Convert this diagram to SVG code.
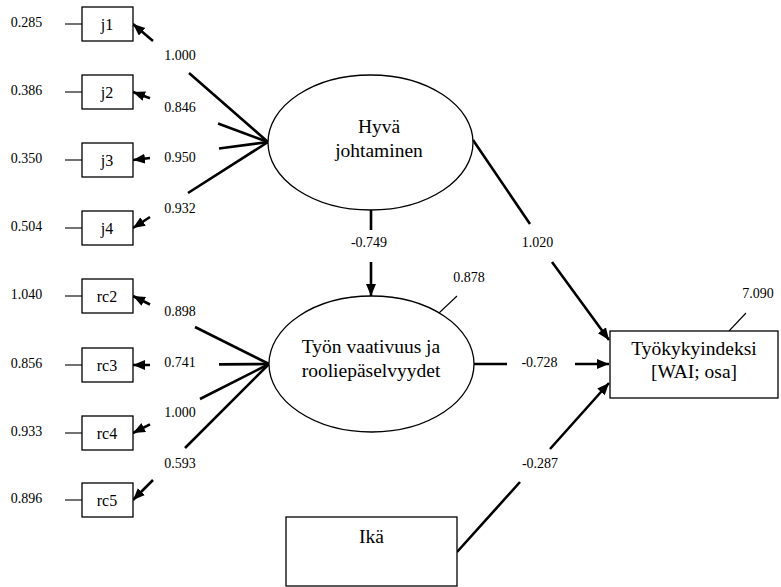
<svg xmlns="http://www.w3.org/2000/svg" width="781" height="587" viewBox="0 0 781 587" font-family="'Liberation Serif', 'DejaVu Serif', serif">
  <style>
    text { font-family: 'Liberation Serif', 'DejaVu Serif', serif; fill: #000; text-anchor: middle; }
    .num { font-size: 14px; }
    .ind { font-size: 16px; }
    .big { font-size: 19.5px; }
    .box { fill: #fff; stroke: #000; stroke-width: 1.3; }
    .lat { fill: #fff; stroke: #000; stroke-width: 1.3; }
    .err { fill: none; stroke: #000; stroke-width: 1.1; }
    .path { fill: none; stroke: #000; stroke-width: 2.6; marker-end: url(#arrow); }
  </style>
  <defs>
    <marker id="arrow" markerUnits="userSpaceOnUse" markerWidth="14" markerHeight="12" refX="12" refY="5" orient="auto">
      <path d="M0,0 L12,5 L0,10 z" fill="#000"/>
    </marker>
  </defs>
  <rect width="781" height="587" fill="#fff"/>

  <!-- connectors -->
  <g id="connectors">
    <!-- error terms of the indicators -->
    <line class="err" x1="65" y1="24" x2="82" y2="24"/>
    <line class="err" x1="65" y1="92" x2="82" y2="92"/>
    <line class="err" x1="65" y1="160" x2="82" y2="160"/>
    <line class="err" x1="65" y1="228" x2="82" y2="228"/>
    <line class="err" x1="65" y1="296" x2="82" y2="296"/>
    <line class="err" x1="65" y1="365" x2="82" y2="365"/>
    <line class="err" x1="65" y1="433" x2="82" y2="433"/>
    <line class="err" x1="65" y1="500" x2="82" y2="500"/>
    <!-- residuals of the endogenous variables -->
    <line class="err" x1="439" y1="313" x2="457" y2="296"/>
    <line class="err" x1="729" y1="331" x2="746" y2="313"/>

    <!-- loadings: Hyvä johtaminen -->
    <path class="path" d="M268,142 L189,73 M153,41 L133,24"/>
    <path class="path" d="M268,142 L218,123.5 M150,98.3 L133,92"/>
    <path class="path" d="M268,142 L219,148.5 M150,158 L133,160"/>
    <path class="path" d="M268,142 L188,193 M150,217 L133,228"/>
    <!-- loadings: Työn vaativuus ja rooliepäselvyydet -->
    <path class="path" d="M269,364 L195,327 M150,304.5 L133,296"/>
    <path class="path" d="M269,364 L219,364.4 M150,365 L133,365"/>
    <path class="path" d="M269,364 L200,399 M150,424.4 L133,433"/>
    <path class="path" d="M269,364 L185,448 M153,480 L133,500"/>

    <!-- structural paths -->
    <path class="path" d="M371,210 L371,230 M371,262 L371,296"/>
    <path class="path" d="M473,140 L530,224 M552,262 L609,340"/>
    <path class="path" d="M474,364 L507,364 M575,364 L609,364"/>
    <path class="path" d="M457,552 L520,482 M550,449 L609,383"/>
  </g>

  <!-- indicator boxes -->
  <g id="j1"><rect class="box" x="82" y="7" width="51" height="34"/><text class="ind" x="107" y="30">j1</text><text class="num" x="26.5" y="27">0.285</text></g>
  <g id="j2"><rect class="box" x="82" y="75" width="51" height="34"/><text class="ind" x="107" y="98">j2</text><text class="num" x="26.5" y="95">0.386</text></g>
  <g id="j3"><rect class="box" x="82" y="143" width="51" height="34"/><text class="ind" x="107" y="166">j3</text><text class="num" x="26.5" y="163">0.350</text></g>
  <g id="j4"><rect class="box" x="82" y="211" width="51" height="34"/><text class="ind" x="107" y="234">j4</text><text class="num" x="26.5" y="231">0.504</text></g>
  <g id="rc2"><rect class="box" x="82" y="279" width="51" height="34"/><text class="ind" x="107" y="302">rc2</text><text class="num" x="26.5" y="299">1.040</text></g>
  <g id="rc3"><rect class="box" x="82" y="348" width="51" height="34"/><text class="ind" x="107" y="371">rc3</text><text class="num" x="26.5" y="368">0.856</text></g>
  <g id="rc4"><rect class="box" x="82" y="416" width="51" height="34"/><text class="ind" x="107" y="439">rc4</text><text class="num" x="26.5" y="436">0.933</text></g>
  <g id="rc5"><rect class="box" x="82" y="483" width="51" height="34"/><text class="ind" x="107" y="506">rc5</text><text class="num" x="26.5" y="503">0.896</text></g>

  <!-- latent variables -->
  <g id="hyva-johtaminen">
    <ellipse class="lat" cx="370.5" cy="142.5" rx="102.5" ry="67.5"/>
    <text class="big" x="379" y="133">Hyvä</text>
    <text class="big" x="379" y="157">johtaminen</text>
  </g>
  <g id="tyon-vaativuus">
    <ellipse class="lat" cx="371.5" cy="364" rx="102.5" ry="68"/>
    <text class="big" x="371" y="353">Työn vaativuus ja</text>
    <text class="big" x="371" y="377">rooliepäselvyydet</text>
  </g>

  <!-- observed outcome and covariate -->
  <g id="tyokykyindeksi">
    <rect class="box" x="610" y="331" width="168" height="67"/>
    <text class="big" x="694" y="355">Työkykyindeksi</text>
    <text class="big" x="694" y="378">[WAI; osa]</text>
  </g>
  <g id="ika">
    <rect class="box" x="286" y="517" width="171" height="69"/>
    <text class="big" x="371.5" y="543">Ikä</text>
  </g>

  <!-- coefficient labels -->
  <g id="labels">
    <text class="num" x="180" y="60">1.000</text>
    <text class="num" x="180" y="112">0.846</text>
    <text class="num" x="180" y="162">0.950</text>
    <text class="num" x="180" y="213">0.932</text>
    <text class="num" x="180" y="316">0.898</text>
    <text class="num" x="180" y="367">0.741</text>
    <text class="num" x="180" y="417">1.000</text>
    <text class="num" x="180" y="468">0.593</text>
    <text class="num" x="369" y="247">-0.749</text>
    <text class="num" x="469" y="282">0.878</text>
    <text class="num" x="537.5" y="247">1.020</text>
    <text class="num" x="539.5" y="367">-0.728</text>
    <text class="num" x="758" y="298">7.090</text>
    <text class="num" x="540" y="468">-0.287</text>
  </g>
</svg>
